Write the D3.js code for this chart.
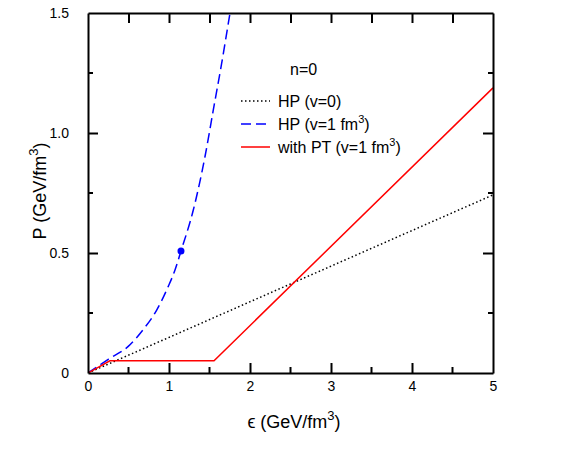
<!DOCTYPE html>
<html><head><meta charset="utf-8">
<script src="https://cdn.jsdelivr.net/npm/d3@7"></script>
<style>body{margin:0;background:#fff;}text{font-family:"Liberation Sans",Arial,sans-serif;}</style>
</head><body>
<script>
// Data
const xTicks = [0,1,2,3,4,5];
const xMinor = [0.5,1.5,2.5,3.5,4.5];
const yTicks = [0,0.5,1.0,1.5];
const yTickLabels = ["0","0.5","1.0","1.5"];
const yMinor = [0.25,0.75,1.25];
const hpV0 = [[0,0],[5,0.742]];
const hpV1 = [[0,0],[0.25,0.057],[0.5,0.112],[0.684,0.182],[0.848,0.262],[0.99,0.36],[1.074,0.429],[1.148,0.508],[1.3,0.679],[1.444,0.901],[1.547,1.096],[1.65,1.29],[1.753,1.5]];
const withPT = [[0,0],[0.27,0.051],[1.556,0.051],[5,1.188]];
const dotPoint = [1.148,0.508];

const W=581,H=452;
const svg=d3.select("body").append("svg").attr("width",W).attr("height",H);
const x=d3.scaleLinear().domain([0,5]).range([88,493]);
const y=d3.scaleLinear().domain([0,1.5]).range([373,13]);

const line=d3.line().x(d=>x(d[0])).y(d=>y(d[1]));
const lineC=d3.line().x(d=>x(d[0])).y(d=>y(d[1])).curve(d3.curveMonotoneX);
svg.append("clipPath").attr("id","c").append("rect").attr("x",88).attr("y",13).attr("width",405).attr("height",360);
const g=svg.append("g").attr("clip-path","url(#c)");

g.append("path").attr("d",line(hpV0)).attr("fill","none").attr("stroke","#000").attr("stroke-width",1.5).attr("stroke-dasharray","1.5,2.5");
g.append("path").attr("d",lineC(hpV1)).attr("fill","none").attr("stroke","#0000ff").attr("stroke-width",1.5).attr("stroke-dasharray","10,5");
g.append("path").attr("d",line(withPT)).attr("fill","none").attr("stroke","#ff0000").attr("stroke-width",1.5);
svg.append("circle").attr("cx",x(dotPoint[0])).attr("cy",y(dotPoint[1])).attr("r",3.5).attr("fill","#0000ff");

// Axes (ticks inward)
const axB=d3.axisBottom(x).tickValues(xTicks).tickSizeInner(-10).tickSizeOuter(0).tickPadding(8).tickFormat(d3.format("d"));
const gb=svg.append("g").attr("transform","translate(0,373)").call(axB);
gb.selectAll(".tick").filter(d=>d===0||d===5).select("line").remove();
gb.append("g").selectAll("line").data(xMinor).join("line").attr("x1",d=>x(d)).attr("x2",d=>x(d)).attr("y1",0).attr("y2",-6).attr("stroke","#000").attr("stroke-width",2);

const axL=d3.axisLeft(y).tickValues(yTicks).tickSizeInner(-10).tickSizeOuter(0).tickPadding(19).tickFormat((d,i)=>yTickLabels[i]);
const gl=svg.append("g").attr("transform","translate(88,0)").call(axL);
gl.selectAll(".tick").filter(d=>d===0||d===1.5).select("line").remove();
gl.append("g").selectAll("line").data(yMinor).join("line").attr("y1",d=>y(d)).attr("y2",d=>y(d)).attr("x1",0).attr("x2",5).attr("stroke","#000").attr("stroke-width",2);

const axT=d3.axisTop(x).tickValues(xTicks.concat(xMinor).filter(d=>d>0&&d<5)).tickSizeInner(-10).tickSizeOuter(0).tickFormat("");
svg.append("g").attr("transform","translate(0,13)").call(axT);
const axR=d3.axisRight(y).tickValues(yTicks.filter(d=>d>0&&d<1.5)).tickSizeInner(-10).tickSizeOuter(0).tickFormat("");
const gr=svg.append("g").attr("transform","translate(493,0)").call(axR);
gr.append("g").selectAll("line").data(yMinor).join("line").attr("y1",d=>y(d)).attr("y2",d=>y(d)).attr("x1",0).attr("x2",-5).attr("stroke","#000").attr("stroke-width",2);

svg.selectAll(".domain").attr("stroke","#000").attr("stroke-width",2);
svg.selectAll(".tick line").attr("stroke","#000").attr("stroke-width",2);
svg.selectAll(".tick text").attr("font-size",14).attr("fill","#000").attr("font-family","Liberation Sans, Arial, sans-serif");

// Axis titles
const xt=svg.append("text").attr("x",294).attr("y",428).attr("text-anchor","middle").attr("font-size",18);
xt.append("tspan").text("\u03F5 (GeV/fm");
xt.append("tspan").attr("font-size",13).attr("dy",-8).text("3");
xt.append("tspan").attr("dy",8).text(")");

const yt=svg.append("text").attr("transform","translate(46,191) rotate(-90)").attr("text-anchor","middle").attr("font-size",18);
yt.append("tspan").text("P (GeV/fm");
yt.append("tspan").attr("font-size",13).attr("dy",-8).text("3");
yt.append("tspan").attr("dy",8).text(")");

// Legend
svg.append("text").attr("x",290).attr("y",75).attr("font-size",16).text("n=0");
const leg=[
 {label:["HP (v=0)"],color:"#000",dash:"1.5,2.5",sup:false},
 {label:["HP (v=1 fm",")"],color:"#0000ff",dash:"10,5",sup:true},
 {label:["with PT (v=1 fm",")"],color:"#ff0000",dash:null,sup:true}
];
const ly=[101,124,147];
leg.forEach((d,i)=>{
  svg.append("line").attr("x1",241).attr("x2",270).attr("y1",ly[i]).attr("y2",ly[i]).attr("stroke",d.color).attr("stroke-width",1.5).attr("stroke-dasharray",d.dash);
  const t=svg.append("text").attr("x",278).attr("y",ly[i]+6).attr("font-size",16);
  t.append("tspan").text(d.label[0]);
  if(d.sup){
    t.append("tspan").attr("font-size",11).attr("dy",-7).text("3");
    t.append("tspan").attr("dy",7).text(d.label[1]);
  }
});
</script>
</body></html>
